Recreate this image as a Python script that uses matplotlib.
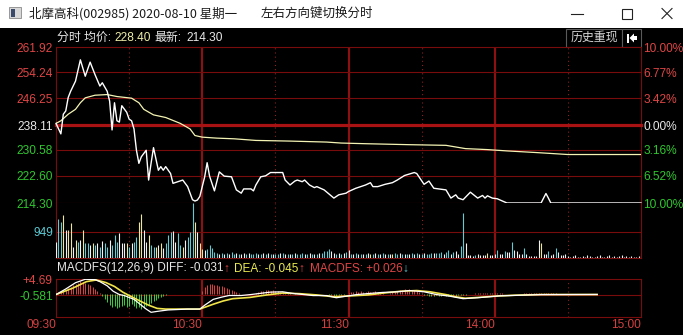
import matplotlib
matplotlib.use('Agg')
import matplotlib.pyplot as plt
from matplotlib.patches import Rectangle, Polygon
from matplotlib.lines import Line2D
import numpy as np

plt.rcParams['font.family'] = ['Liberation Sans', 'Noto Sans CJK SC', 'DejaVu Sans']

# ---- data ----
prev_close = 238.11
price_ticks = [214.30, 222.60, 230.58, 238.11, 246.25, 254.24, 261.92]
pct_labels = ['10.00%', '6.52%', '3.16%', '0.00%', '3.42%', '6.77%', '10.00%']

# minute index (0 = 09:30, 240 = 15:00) and last price
price_min = [0, 2, 3, 4, 5, 6, 8, 10, 12, 14, 16, 18, 19, 21, 22, 23, 24, 25, 26, 27,
             29, 30, 31, 32, 33, 34, 35, 37, 38, 39, 40, 42, 43, 44, 45, 47, 48, 50, 52, 54,
             56, 57, 58, 59, 61, 62, 63, 65, 67, 69, 72, 74, 76, 77, 80, 81, 82, 84, 86, 88,
             93, 94, 96, 98, 99, 101, 102, 104, 106, 107, 110, 114, 116, 119, 120, 123, 125, 127, 129, 130,
             132, 135, 138, 140, 143, 147, 148, 151, 153, 155, 157, 160, 162, 164, 165, 167, 170, 173, 175, 176,
             177, 179, 181, 185, 199, 201, 202, 203, 240]
price_val = [238.6, 235.4, 241.4, 242.4, 246.5, 248.4, 251.5, 258.0, 253.0, 257.3, 253.5, 250.0, 251.0, 248.4, 245.4, 236.6, 244.9, 239.4, 239.0, 244.0,
             242.0, 239.9, 239.4, 236.9, 230.4, 226.4, 228.4, 230.4, 221.3, 226.4, 231.2, 224.3, 225.4, 224.3, 225.4, 223.3, 220.3, 220.8, 221.3, 219.3,
             215.3, 214.9, 215.2, 216.3, 222.3, 226.6, 222.5, 218.0, 223.8, 222.5, 222.3, 218.3, 217.3, 218.6, 218.6, 218.0, 219.8, 222.3, 222.6, 223.6,
             223.6, 221.3, 219.8, 221.0, 221.3, 220.8, 221.3, 219.8, 219.0, 219.3, 218.3, 215.8, 216.8, 217.3, 217.8, 218.8, 219.3, 219.8, 220.5, 219.3,
             219.3, 220.0, 220.5, 221.3, 222.7, 223.6, 223.3, 220.0, 221.0, 218.8, 218.6, 218.3, 215.8, 216.8, 215.8, 215.3, 217.6, 215.8, 216.6, 215.8,
             216.5, 215.8, 215.6, 214.3, 214.3, 217.2, 215.8, 214.3, 214.3]

avg_min = [0, 2, 5, 8, 10, 12, 16, 21, 25, 31, 34, 36, 40, 45, 51, 55, 57, 60, 66, 73,
           82, 96, 111, 117, 127, 145, 160, 168, 177, 185, 197, 210, 240]
avg_val = [238.6, 239.4, 241.4, 242.9, 244.9, 246.4, 247.2, 247.4, 246.8, 246.3, 244.9, 242.9, 241.2, 240.4, 238.6, 236.9, 234.9, 234.4, 234.1, 233.9,
           233.4, 233.2, 232.9, 232.6, 232.4, 232.1, 231.9, 230.9, 230.6, 230.2, 229.7, 229.1, 229.1]

# per-minute volume (241 bars) and bar colour code: w = flat/white, c = down/cyan, y = up/yellow
volume = [595, 1412, 1325, 1570, 1022, 1022, 1290, 413, 657, 595, 657, 1022, 535, 560, 475, 535, 475, 535, 413, 633,
          560, 413, 657, 475, 840, 595, 900, 535, 535, 535, 413, 535, 595, 778, 1325, 1606, 1022, 595, 840, 475,
          413, 413, 475, 535, 353, 535, 840, 961, 997, 595, 900, 475, 413, 657, 778, 937, 2000, 1325, 961, 535,
          317, 292, 317, 475, 353,
          220, 180, 150, 200, 130, 170, 150, 210, 140, 180, 160, 130, 190, 150, 170, 140, 160, 200, 150, 130,
          170, 150, 180, 140, 160, 130, 150, 190, 170, 140, 160, 150, 130, 170, 150, 140, 180, 160, 150, 170,
          140, 160, 150, 180, 200, 240, 270, 320, 260, 190, 150, 170, 160, 200, 230, 280, 160, 150, 170, 140,
          150, 160, 140, 170, 150, 160, 180, 150, 140, 170, 160, 150, 140, 160, 170, 150, 180, 160, 150, 140,
          160, 170, 150, 180, 160, 150, 170, 140, 160, 180, 200, 170, 190, 220,
          160, 220, 300, 160, 220, 255, 160, 440, 1650, 550, 120, 100, 80, 100, 130, 100, 100, 120, 200, 100,
          120, 160, 300, 130, 130, 270, 220, 220, 585, 280, 270, 130, 160, 365, 160, 60, 60, 60, 60, 645,
          560, 130, 130, 270, 120, 160, 365, 220, 120, 100, 130, 60, 40, 60, 100, 40, 50, 60, 40, 100,
          60, 50, 40, 60, 100, 50, 40, 60, 100, 50, 60, 40, 60, 100, 50, 60, 40, 60, 50, 40, 60, 180]
volume_dir = ("wccywyywyc" "wyccwycwcw" "ccwcccwwwy" "cwccyywwyc" "cywywcccww" "ccywcccywy" "ywccc"
              "ccwcwcwccwcwwcwcccwc" "wcwcwccwcwcwcwcccwcw" "cwcwccccwwcwcwcwcwcw"
              "cwcwycwcwcwcwyccwcwc" "wcwcwcwcccwccc"
              "wccwcwwccwwwwcwwwwyw" "wwcwwcwwcwwwwcwwwwww" "ywwcwwcwwwwwwwwwwwww"
              "wwwwwwwwwwwwwwwwwwwwww")
vol_label = 949

# MACD(12,26,9)
diff_min = [0, 4, 8, 12, 16, 18, 21, 23.5, 26, 28, 32, 34.5, 37, 39, 42, 46, 54, 59, 61, 64.5,
            68, 71, 76, 80, 88, 93, 97, 101.5, 105.5, 111, 115, 119, 123.5, 129, 134, 140, 145, 151, 156, 161.5,
            167, 173, 182, 190, 199, 222]
diff_val = [-0.27, 1.5, 3.5, 4.6, 4.5, 3.85, 2.52, 0.75, -0.27, -0.6, -1.82, -3.37, -4.92, -5.95, -5.6, -5.2, -4.92, -4.92, -3.68, -1.82,
            -1.1, -0.58, -0.58, -0.27, 0.5, 0.6, 0.1, -0.27, -0.6, -0.6, -1.3, -0.8, -0.27, 0.1, 0.4, 0.6, 1.0, 0.6, -0.27, -0.8,
            -1.6, -1.3, -0.7, -0.5, -0.3, -0.25]
dea_min = [0, 7, 12.5, 16.5, 20.5, 24, 27.5, 31, 34.5, 38, 41.5, 45, 59, 64.5, 68.5, 72.5, 79.5, 86.5, 93, 100,
           107, 114, 121, 128, 134.5, 141, 148, 153.5, 160, 164, 168, 173, 182, 188, 199, 222]
dea_val = [-0.27, 1.81, 3.85, 4.38, 3.54, 2.3, 0.44, -0.98, -2.35, -3.68, -4.7, -4.92, -4.92, -3.37, -2.35, -1.6, -1.2, -0.4, 0.2, 0.0,
           -0.4, -1.0, -0.7, -0.4, 0.2, 0.75, 1.0, 0.6, -0.3, -1.0, -1.46, -1.2, -0.7, -0.5, -0.27, -0.27]
macd_hist = [0.0, 0.3, 0.6, 1.0, 1.3, 1.9, 2.2, 2.9, 3.2, 3.5, 4.1, 3.8, 3.5, 3.2, 2.9, 2.2, 1.6, 1.0, 0.3,
             -0.6, -1.6, -2.6, -3.5, -4.2, -3.8, -4.5, -4.2, -3.8, -3.5, -4.2, -3.8, -3.2, -3.8, -4.5, -4.2, -4.8, -4.5, -3.8, -3.5,
             -2.9, -2.2, -1.9, -1.3, -1.0, -0.6, -0.3,
             -0.2, -0.1, 0, 0, 0, 0, 0, 0, 0, 0, 0, 0, 0, 0,
             1.0, 2.2, 2.9, 3.2, 3.2, 2.9, 2.9, 2.6, 2.6, 2.2, 1.9, 1.6, 1.3, 1.0, 0.6, 0.3,
             0, 0, 0, 0, 0, 0,
             0.3, 0.6, 1.0, 1.0, 1.3, 1.3, 1.0, 1.3, 1.0, 1.0, 0.6, 0.6, 0.3, 0.3,
             0.2, 0, 0.2, 0, 0, 0, 0, 0, 0, 0, 0, 0, 0, 0, 0, 0,
             -0.3, -0.3, -0.6, -0.6, -0.3, -0.3, -0.3, 0,
             0.3, 0.6, 0.6, 0.8, 0.6, 0.8, 0.6, 0.6, 0.8, 0.6, 0.6, 0.8, 0.6, 0.6, 0.3, 0, 0, 0.3, 0.6, 0.6,
             1.0, 1.3, 1.3, 1.6, 1.3, 1.6, 1.3, 1.3, 1.0, 0.6, 0.3,
             -0.3, -0.3, -0.6, -0.6, -0.6, -0.3, -0.6, -0.6, -0.3, -0.6, -0.6, -0.6, -0.3, -0.6, -0.3, -0.3, -0.3, -0.3, 0,
             0, 0, 0.3, 0.3, 0.3, 0.3, 0.3, 0.3, 0.3, 0.3, 0.3, 0.3, 0.3, 0.3, 0, 0, 0, 0, 0, 0,
             0, 0, 0.3, 0.3, 0.3, 0.3, 0.3, 0.3, 0.3, 0.3, 0.3, 0.3, 0.3, 0.3, 0.3, 0.3, 0, 0, 0, 0]
macd_top, macd_mid, macd_bottom = 4.69, -0.581, -7.45

time_ticks = [0, 60, 120, 180, 240]
time_labels = ['09:30', '10:30', '11:30', '14:00', '15:00']

assert len(volume) == 241 and len(volume_dir) == 241

# ---- colours ----
RED = '#e04545'
GREEN = '#2ec82e'
WHITE = '#e8e8e8'
CYAN = '#5cc8d2'
GRID = '#780c0c'
GRID_V = '#8e1010'
bar_colors = {'w': '#f2f2f2', 'c': '#66c8d0', 'y': '#ece4a0'}

W, H = 683, 335
fig = plt.figure(figsize=(W / 100, H / 100), dpi=100, facecolor='black')


def px_axes(x0, y0, x1, y1):
    return fig.add_axes([x0 / W, 1 - y1 / H, (x1 - x0) / W, (y1 - y0) / H])


# decoration layer in pixel coordinates (y downwards)
deco = fig.add_axes([0, 0, 1, 1])
deco.set_xlim(0, W)
deco.set_ylim(H, 0)
deco.axis('off')
deco.add_patch(Rectangle((0, 0), W, 28, facecolor='white', edgecolor='none'))
deco.add_patch(Rectangle((9, 7), 12, 11, facecolor='#d8d8d8', edgecolor='#8a8a8a', lw=0.6))
deco.add_patch(Rectangle((10.5, 8.5), 4, 8, facecolor='#3a4a6a', edgecolor='none'))
deco.text(29, 13.5, '北摩高科(002985) 2020-08-10 星期一', fontsize=9, color='#1a1a1a', va='center',
          family=['Noto Sans CJK SC', 'DejaVu Sans'])
deco.text(261, 13.5, '左右方向键切换分时', fontsize=9, color='#1a1a1a', va='center',
          family=['Noto Sans CJK SC', 'DejaVu Sans'])
deco.add_line(Line2D([571, 583], [13.5, 13.5], color='#222222', lw=0.8))
deco.add_patch(Rectangle((622, 8.5), 10, 10, facecolor='none', edgecolor='#222222', lw=0.8))
deco.add_line(Line2D([662, 672], [8.5, 18.5], color='#222222', lw=0.8))
deco.add_line(Line2D([662, 672], [18.5, 8.5], color='#222222', lw=0.8))

# header row
hdr = dict(fontsize=8.6, va='center')
deco.text(57, 38, '分时 均价:', color=WHITE, **hdr)
deco.text(114, 38, '228.40', color='#eeeea8', **hdr)
deco.text(154.5, 38, '最新:', color=WHITE, **hdr)
deco.text(186, 38, '214.30', color=WHITE, **hdr)
deco.add_patch(Rectangle((566, 28.5), 56, 18.5, facecolor='black', edgecolor='#5a5a5a', lw=0.8))
deco.add_patch(Rectangle((622, 28.5), 19, 18.5, facecolor='black', edgecolor='#5a5a5a', lw=0.8))
deco.text(594, 38, '历史重现', color='#d8d8d8', fontsize=8.6, ha='center', va='center')
deco.add_patch(Rectangle((626.5, 33.5), 2, 9, facecolor='white', edgecolor='none'))
deco.add_patch(Polygon([(629.5, 38), (634, 33.5), (634, 42.5)], facecolor='white', edgecolor='none'))
deco.add_patch(Rectangle((633.5, 36.2), 3.5, 3.6, facecolor='white', edgecolor='none'))

# MACD caption row
cap = dict(fontsize=8.5, va='center')
deco.text(57, 268.5, 'MACDFS(12,26,9) DIFF: -0.031', color=WHITE, **cap)
deco.text(223.5, 268.5, '↑', color=RED, **cap)
deco.text(234.5, 268.5, 'DEA: -0.045', color='#ecec50', **cap)
deco.text(298.5, 268.5, '↑', color=RED, **cap)
deco.text(309.5, 268.5, 'MACDFS: +0.026', color=RED, **cap)
deco.text(402.5, 268.5, '↓', color=CYAN, **cap)


def style(ax):
    ax.set_facecolor('black')
    for s in ax.spines.values():
        s.set_visible(False)
    ax.set_xlim(0, 240)
    ax.tick_params(length=0, labelsize=8.6, pad=2.2)
    ax.set_xticks([])
    for m in (30, 90, 150, 210):
        ax.axvline(m, color='#9a1c1c', lw=0.75, ls=(0, (1, 3)), zorder=1)
    for m in (60, 120, 180):
        ax.axvline(m, color=GRID_V, lw=1.5, zorder=1)
    for m in (0, 240):
        ax.axvline(m, color=GRID, lw=0.8, zorder=1, clip_on=False)


# ---- price panel ----
ax = px_axes(56, 47, 641, 203)
style(ax)
ax.set_ylim(price_ticks[0], price_ticks[-1])
for v in price_ticks:
    if v == prev_close:
        ax.axhline(v, color='#a81212', lw=2.3, zorder=1, clip_on=False)
    else:
        ax.axhline(v, color=GRID, lw=0.8, zorder=1, clip_on=False)
tick_cols = [GREEN, GREEN, GREEN, WHITE, RED, RED, RED]
ax.set_yticks(price_ticks, labels=['%.2f' % v for v in price_ticks])
for lbl, c in zip(ax.get_yticklabels(), tick_cols):
    lbl.set_color(c)
ax.plot(avg_min, avg_val, color='#f4f4b4', lw=0.9, zorder=3)
ax.plot(price_min, price_val, color='white', lw=1.0, zorder=4, clip_on=False)

ax_r = ax.twinx()
ax_r.set_ylim(price_ticks[0], price_ticks[-1])
for s in ax_r.spines.values():
    s.set_visible(False)
ax_r.tick_params(length=0, labelsize=8.6, pad=1.6)
ax_r.set_yticks(price_ticks, labels=pct_labels)
for lbl, c in zip(ax_r.get_yticklabels(), tick_cols):
    lbl.set_color(c)

# ---- volume panel ----
axv = px_axes(56, 203, 641, 258)
style(axv)
axv.set_ylim(0, 2007)
axv.axhline(vol_label, color=GRID, lw=0.8, zorder=1)
axv.axhline(0, color=GRID, lw=0.8, zorder=1, clip_on=False)
axv.set_yticks([vol_label], labels=[str(vol_label)])
axv.get_yticklabels()[0].set_color(CYAN)
mins = np.arange(len(volume))
axv.vlines(mins, 0, volume, colors=[bar_colors[d] for d in volume_dir], lw=0.8, zorder=3)

# ---- MACD panel ----
axm = px_axes(56, 279, 641, 317)
style(axm)
axm.set_ylim(macd_bottom, macd_top)
for v in (macd_top, macd_mid, macd_bottom):
    axm.axhline(v, color=GRID, lw=0.8, zorder=1, clip_on=False)
axm.set_yticks([macd_top, macd_mid], labels=['+4.69', '-0.581'])
axm.get_yticklabels()[0].set_color(RED)
axm.get_yticklabels()[1].set_color(GREEN)
hx = np.arange(len(macd_hist))
hv = np.array(macd_hist)
axm.vlines(hx[hv > 0], 0, hv[hv > 0], colors='#d84040', lw=0.75, zorder=2)
axm.vlines(hx[hv < 0], 0, hv[hv < 0], colors='#3cc83c', lw=0.75, zorder=2)
axm.plot(dea_min, dea_val, color='#f0e448', lw=1.2, zorder=3)
axm.plot(diff_min, diff_val, color='white', lw=0.9, zorder=4)
axm.set_xticks(time_ticks, labels=time_labels)
axm.tick_params(axis='x', colors='#d44040', pad=1.5, labelsize=8.6)
for lbl in axm.get_xticklabels():
    lbl.set_horizontalalignment('right')

fig.savefig('out.png', dpi=100, facecolor='black')
